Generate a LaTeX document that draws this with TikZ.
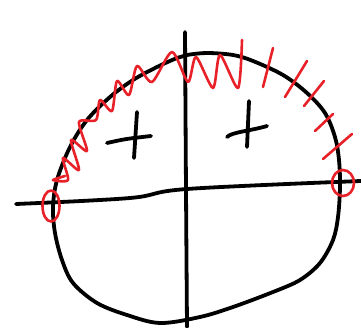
\documentclass[tikz,border=0pt]{standalone}
\definecolor{penred}{RGB}{232,32,40}
\tikzset{
  ink/.style={black,line width=3.8pt,line cap=round,line join=round},
  redink/.style={penred,line width=2.6pt,line cap=round,line join=round},
}
\begin{document}
\begin{tikzpicture}[x=1pt,y=-1pt]
\useasboundingbox (0,0) rectangle (361,328);
% --- axes ---
\draw[ink] plot[smooth,tension=0.6] coordinates {(16,204) (130,198) (187,189) (361,181)};
\draw[ink] plot[smooth,tension=0.5] coordinates {(185,32) (186,190) (187,327)};
% --- closed curve ---
\draw[ink] plot[smooth cycle,tension=0.55] coordinates {
  (187,55) (207,53) (233,55) (253,61) (283,75) (307,93) (325,113) (335,137)
  (339,160) (340,187) (338,217) (333,240) (320,263) (300,280) (273,292)
  (233,307) (200,317) (160,323) (127,315) (97,303) (73,283) (62,260)
  (55,233) (53,207) (57,180) (70,147) (87,120) (110,97) (133,80) (157,67) (177,58)};
% --- signs ---
\draw[ink] (107,143) .. controls (125,139) .. (151,136);
\draw[ink] (137,112) -- (134,158);
\draw[ink] (249,101) -- (247,147);
\draw[ink] (227,137) .. controls (232,132) and (250,131) .. (267,126);
% --- red spring along upper left ---
\draw[redink] plot[smooth,tension=0.45] coordinates {
  (65,176) (53,180) (68,180) (63,158) (79,170) (71,140) (87,151) (79,122)
  (96,120) (100,100) (112,111) (117,81) (129,95) (137,66) (152,82) (172,52)
  (188,82) (196,57) (213,88) (220,55) (238,88) (242,40)};
% --- red hatches on upper right ---
\draw[redink] (263,87) -- (273,48);
\draw[redink] (285,97) -- (307,61);
\draw[redink] (304,106) -- (324,81);
\draw[redink] (315,131) -- (333,114);
\draw[redink] (323,159) -- (352,134);
% --- end marks ---
\draw[redink] (51,206) ellipse (8.5 and 15.5);
\draw[redink] (343,183) ellipse (11 and 13);
\end{tikzpicture}
\end{document}
